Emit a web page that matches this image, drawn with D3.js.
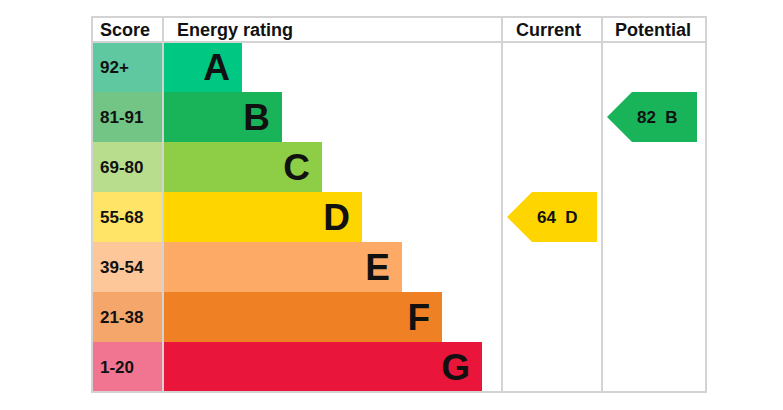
<!DOCTYPE html><html><head><meta charset="utf-8"><script src="https://cdn.jsdelivr.net/npm/d3@7"></script>
<style>body{margin:0;background:#fff}</style></head><body><svg id="c" width="783" height="410"></svg>
<script>
const bands=["A","B","C","D","E","F","G"];
const scores=["92+","81-91","69-80","55-68","39-54","21-38","1-20"];
const barColors=["#00c781","#19b459","#8dce46","#ffd500","#fcaa65","#ef8023","#e9153b"];
const scoreColors=["#60c8a1","#73c585","#b8de8d","#ffe467","#fdc79a","#f5a66b","#f17591"];
const barEnds=[242,282,322,362,402,442,482];
const current={value:64,band:"D"};
const potential={value:82,band:"B"};
const headers=["Score","Energy rating","Current","Potential"];

const svg=d3.select("#c");
const y=d3.scaleBand().domain(bands).range([42,392]).padding(0);
const font="Liberation Sans, Arial, sans-serif";
const L=92,S=163,C1=502,C2=602,R=706,T=17;
// score cells
svg.selectAll(".s").data(bands).join("rect").attr("x",L).attr("y",d=>y(d)).attr("width",S-L).attr("height",y.bandwidth()).attr("fill",(d,i)=>scoreColors[i]);
svg.selectAll(".st").data(bands).join("text").attr("x",L+8).attr("y",d=>y(d)+y.bandwidth()/2+6).text((d,i)=>scores[i]).attr("font-family",font).attr("font-weight","bold").attr("font-size",17).attr("fill","#111");
// bars
svg.selectAll(".b").data(bands).join("rect").attr("x",S).attr("y",d=>y(d)).attr("width",(d,i)=>barEnds[i]-S).attr("height",y.bandwidth()).attr("fill",(d,i)=>barColors[i]);
svg.selectAll(".bt").data(bands).join("text").attr("x",(d,i)=>barEnds[i]-12).attr("y",d=>y(d)+y.bandwidth()/2+13).attr("text-anchor","end").text(d=>d).attr("font-family",font).attr("font-weight","bold").attr("font-size",37).attr("fill","#111");
// grid
const g=svg.append("g").attr("stroke","#d3d3d3").attr("stroke-width",2).attr("fill","none");
g.append("rect").attr("x",L).attr("y",T).attr("width",R-L).attr("height",392-T);
g.append("line").attr("x1",L).attr("x2",R).attr("y1",42).attr("y2",42);
[S,C1,C2].forEach(x=>g.append("line").attr("x1",x).attr("x2",x).attr("y1",T).attr("y2",392));
// headers
const hx=[L+8,S+14,C1+14,C2+13];
svg.selectAll(".h").data(headers).join("text").attr("x",(d,i)=>hx[i]).attr("y",36).text(d=>d).attr("font-family",font).attr("font-weight","bold").attr("font-size",18).attr("fill","#111");
// arrows
function arrow(rec,x0){
  const i=bands.indexOf(rec.band),y0=y(rec.band),h=y.bandwidth(),w=90,p=25;
  svg.append("path").attr("d",`M${x0},${y0+h/2}L${x0+p},${y0}L${x0+w},${y0}L${x0+w},${y0+h}L${x0+p},${y0+h}Z`).attr("fill",barColors[i]);
  svg.append("text").attr("x",x0+p+5).attr("y",y0+h/2+6).text(rec.value+"  "+rec.band).attr("xml:space","preserve").style("white-space","pre").attr("font-family",font).attr("font-weight","bold").attr("font-size",17).attr("fill","#111");
}
arrow(current,507);arrow(potential,607);
</script></body></html>
